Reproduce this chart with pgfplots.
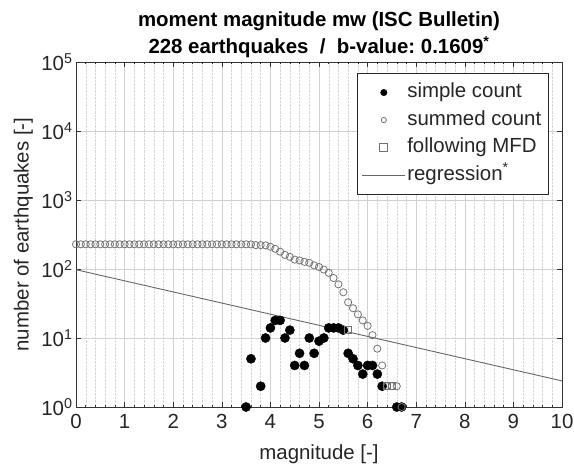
\documentclass[border=0pt]{standalone}
\usepackage{fontspec}
\setmainfont{Liberation Sans}
\usepackage{pgfplots}
\pgfplotsset{compat=1.18}
\newcommand{\fs}{\fontsize{20.5}{24}\selectfont}
\frenchspacing
\begin{document}
\begin{tikzpicture}
\path[use as bounding box] (-76bp,-64bp) rectangle (498bp,407bp);
\begin{axis}[
  at={(0,0)}, anchor=south west, scale only axis,
  width=486bp, height=345bp,
  xmin=0, xmax=10, ymin=1, ymax=100000,
  ymode=log, log basis y=10,
  xtick={0,1,2,3,4,5,6,7,8,9,10},
  xticklabels={0,1,2,3,4,5,6,7,8,9,10},
  minor x tick num=4,
  ytick={1,10,100,1000,10000,100000},
  yticklabels={10\textsuperscript{0},10\textsuperscript{1},10\textsuperscript{2},10\textsuperscript{3},10\textsuperscript{4},10\textsuperscript{5}},
  grid=both,
  major grid style={black!18, line width=0.4bp},
  minor grid style={black!16, line width=0.4bp, densely dotted},
  axis line style={black!80, line width=0.5bp},
  tick style={black!80, line width=0.5bp},
  major tick length=5bp, minor tick length=2.5bp,
  tick align=inside,
  tick label style={font=\fs, text=black!85},
  xticklabel style={yshift=-4bp},
  every axis title/.style={at={(axis description cs:0.5,1.0107)}, anchor=south, inner sep=0pt,
     font=\bfseries\fontsize{20.5}{27}\selectfont, align=center},
  title={moment magnitude mw (ISC Bulletin)\\228 earthquakes~~/~~b-value: 0.1609\textsuperscript{*}},
  every axis x label/.style={at={(axis description cs:0.5,-0.1536)}, anchor=base, font=\fs, text=black!85},
  every axis y label/.style={at={(axis description cs:-0.0977,0.5)}, rotate=90, anchor=base, font=\fs, text=black!85},
  xlabel={magnitude [-]},
  ylabel={number of earthquakes [-]},
  legend image code/.code={\draw[mark repeat=2,mark phase=2] plot coordinates {(0bp,0bp)(21.5bp,0bp)(43bp,0bp)};},
  legend cell align=left,
  legend style={at={(0.9712,0.968)}, anchor=north east, draw=black!85, line width=0.5bp,
     fill=white, font=\fs, text=black!85, inner xsep=5bp, inner ysep=8bp, row sep=5bp,
     nodes={inner sep=1.5bp, text height=15bp, text depth=4.5bp}},
]
\addplot[only marks, mark=*, mark size=4.6bp, black, mark options={fill=black},
  legend image post style={mark size=3.2bp}] coordinates {
(3.5,1)(3.6,5)(3.8,2)(3.9,10)(4.0,14)(4.1,18)(4.2,18)(4.3,10)(4.4,13)(4.5,4)
(4.6,6)(4.7,4)(4.8,10)(4.9,6)(5.0,9)(5.1,10)(5.2,14)(5.3,14)(5.4,14)(5.5,13)
(5.6,6)(5.7,5)(5.8,4)(5.9,3)(6.0,4)(6.1,4)(6.2,3)(6.3,2)(6.6,1)(6.7,1)};
\addlegendentry{simple count}
\addplot[only marks, mark=o, mark size=3.6bp, black!55, mark options={line width=0.8bp},
  legend image post style={mark size=2.6bp}] coordinates {
(0.0,228)(0.1,228)(0.2,228)(0.3,228)(0.4,228)(0.5,228)(0.6,228)(0.7,228)(0.8,228)(0.9,228)
(1.0,228)(1.1,228)(1.2,228)(1.3,228)(1.4,228)(1.5,228)(1.6,228)(1.7,228)(1.8,228)(1.9,228)
(2.0,228)(2.1,228)(2.2,228)(2.3,228)(2.4,228)(2.5,228)(2.6,228)(2.7,228)(2.8,228)(2.9,228)
(3.0,228)(3.1,228)(3.2,228)(3.3,228)(3.4,228)(3.5,228)(3.6,227)(3.7,222)(3.8,222)(3.9,220)
(4.0,210)(4.1,196)(4.2,178)(4.3,160)(4.4,150)(4.5,137)(4.6,133)(4.7,127)(4.8,123)(4.9,113)
(5.0,107)(5.1,98)(5.2,88)(5.3,74)(5.4,60)(5.5,46)(5.6,33)(5.7,27)(5.8,22)(5.9,18)
(6.0,15)(6.1,11)(6.2,7)(6.3,4)(6.4,2)(6.5,2)(6.6,2)(6.7,1)};
\addlegendentry{summed count}
\addplot[only marks, mark=square, mark size=3.5bp, black!55, mark options={line width=0.8bp},
  legend image post style={mark size=4bp}] coordinates {
(5.6,13)(6.4,2)(6.5,2)};
\addlegendentry{following MFD}
\addplot[black!60, line width=0.9bp, no marks] coordinates {(0,97.7)(10,2.39)};
\addlegendentry{regression\textsuperscript{*}}
\end{axis}
\end{tikzpicture}
\end{document}
